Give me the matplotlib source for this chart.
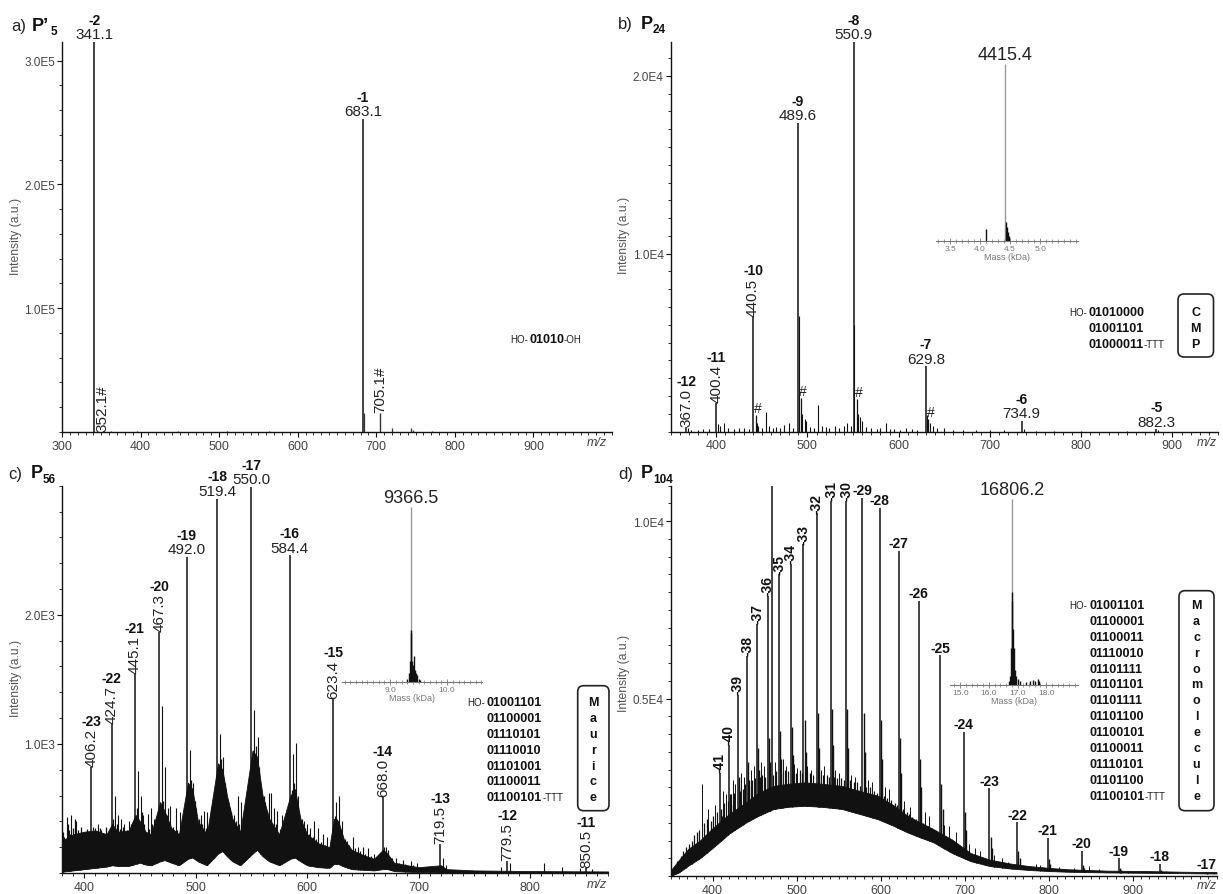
import numpy as np
import matplotlib
matplotlib.use("Agg")
import matplotlib.pyplot as plt
from matplotlib.patches import FancyBboxPatch
from matplotlib.ticker import FixedLocator, FixedFormatter, MultipleLocator

plt.rcParams['font.family'] = ['Liberation Sans', 'DejaVu Sans']

# ======================= DATA =======================
# ---- panel a : P'5 ----
a_peak_mz = [341.1, 683.1]
a_peak_int = [315000, 253000]
a_peak_z = ['-2', '-1']
a_hash_mz = [352.1, 705.1]
a_hash_int = [0, 15500]
a_hash_txt = ['352.1#', '705.1#']
a_minor_mz = [684.1, 720.6, 744.2, 746.8, 362.0, 395.0, 447.5, 510.0, 563.0, 640.0, 771.0, 861.0]
a_minor_int = [15000, 3000, 3500, 2000, 600, 500, 800, 500, 500, 400, 700, 400]

# ---- panel b : P24 ----
b_peak_mz = [367.0, 400.4, 440.5, 489.6, 550.9, 629.8, 734.9, 882.3]
b_peak_int = [250, 1600, 6480, 17340, 21900, 3670, 580, 120]
b_peak_z = ['-12', '-11', '-10', '-9', '-8', '-7', '-6', '-5']
b_peak_rot = [True, True, True, False, False, False, False, False]
b_hash_mz = [443.8, 492.6, 554.6, 632.6]
b_hash_int = [900, 1900, 1800, 700]
b_minor_mz = [369, 372, 380, 386, 392, 402, 404, 409, 413, 420, 425, 430, 436, 444.5, 446,
              450, 455, 458, 462, 466, 470, 474, 480, 484, 490.3, 494, 497, 499, 503, 507,
              512, 516, 520, 524, 530, 535, 540, 543, 548, 551.6, 556, 558, 560, 564, 570,
              576, 580, 586, 590, 595, 601, 608, 615, 620, 631.3, 634, 638, 642, 650, 660,
              670, 685, 700, 715, 737, 750, 770, 800, 850, 884]
b_minor_int = [200, 100, 100, 150, 120, 400, 300, 500, 200, 150, 200, 200, 150, 500, 300,
               200, 1100, 300, 200, 250, 200, 350, 450, 200, 6500, 1000, 700, 600, 250, 200,
               1500, 300, 250, 200, 300, 200, 300, 450, 300, 6000, 1000, 800, 600, 250, 200,
               150, 200, 450, 150, 150, 100, 200, 150, 100, 900, 500, 300, 200, 200, 100,
               80, 80, 60, 60, 150, 50, 40, 40, 30, 80]
b_ins_main_mass = [4.4154]
b_ins_main_int = [1.0]
b_ins_mass = [4.100, 4.428, 4.442, 4.462, 4.482]
b_ins_int = [0.07, 0.11, 0.08, 0.05, 0.03]
b_seq = ['01010000', '01001101', '01000011']
b_word = 'CMP'

# ---- panel c : P56 ----
c_peak_mz = [406.2, 424.7, 445.1, 467.3, 492.0, 519.4, 550.0, 584.4, 623.4, 668.0, 719.5, 779.5, 850.5]
c_peak_int = [820, 1155, 1540, 1866, 2447, 2900, 2990, 2460, 1350, 590, 225, 95, 40]
c_peak_z = ['-23', '-22', '-21', '-20', '-19', '-18', '-17', '-16', '-15', '-14', '-13', '-12', '-11']
c_peak_rot = [True, True, True, True, False, False, False, False, True, True, True, True, True]
c_band_mz = [380, 390, 400, 410, 420, 425, 430, 440, 446, 450, 455, 460, 468, 472, 478, 485,
             493, 497, 502, 510, 520, 524, 528, 533, 540, 551, 555, 560, 566, 575, 585, 589,
             594, 600, 610, 620, 624, 628, 633, 640, 650, 660, 668, 672, 678, 690, 700, 720,
             725, 750, 800, 870]
c_band_lo = [10, 20, 30, 40, 50, 60, 55, 55, 70, 80, 65, 60, 90, 100, 80, 60,
             110, 120, 90, 60, 150, 170, 130, 90, 60, 150, 180, 130, 90, 60, 110, 120,
             90, 60, 45, 40, 70, 70, 50, 30, 25, 20, 30, 30, 15, 10, 8, 4,
             4, 3, 2, 2]
c_band_hi = [250, 300, 320, 330, 300, 380, 320, 330, 450, 400, 320, 300, 550, 480, 350, 300,
             700, 650, 400, 300, 850, 800, 600, 420, 320, 950, 900, 600, 420, 300, 600, 650,
             420, 300, 230, 200, 420, 400, 260, 180, 140, 110, 180, 150, 80, 60, 45, 60,
             30, 20, 15, 12]
c_minor_mz = [409.5, 427.3, 430.0, 448.0, 450.5, 453.0, 469.6, 472.3, 475.0, 494.6, 497.5, 500.0,
              505.0, 521.9, 524.5, 527.0, 531.0, 534.0, 552.7, 555.5, 558.0, 565.5, 570.0, 587.0,
              589.8, 592.0, 597.0, 603.0, 626.0, 628.8, 631.0, 636.0, 641.0, 646.0, 670.6, 673.0,
              676.0, 693.0, 699.0, 722.0, 725.0, 774.0, 782.0, 813.0, 829.0, 845.0, 856.0,
              382.0, 384.5, 386.5, 388.5, 391.0, 393.0, 396.0, 398.5, 401.0, 404.0, 412.0, 415.0,
              418.0, 421.0, 433.0, 436.0, 440.0, 457.0, 460.0, 463.0, 477.0, 482.0, 486.0, 507.5,
              510.0, 514.0, 538.0, 541.0, 545.0, 562.0, 567.5, 573.0, 577.0, 580.0, 600.0, 606.0,
              610.0, 614.0, 618.0, 650.0, 655.0, 660.0, 680.0, 686.0]
c_minor_int = [350, 600, 450, 790, 600, 450, 1290, 820, 500, 950, 700, 500,
               450, 1080, 900, 650, 500, 450, 1260, 1050, 700, 620, 500, 920,
               1010, 600, 400, 350, 550, 600, 400, 250, 280, 200, 200, 180,
               120, 90, 80, 120, 60, 50, 80, 80, 50, 40, 30,
               280, 430, 330, 450, 300, 400, 280, 320, 250, 300, 380, 330,
               300, 280, 420, 380, 400, 460, 500, 420, 520, 500, 470, 480,
               470, 500, 600, 550, 520, 550, 620, 480, 450, 420, 380, 400,
               350, 300, 280, 200, 190, 150, 120, 100]
c_fine_mz = [381, 383, 385.5, 387.5, 390, 392, 394.5, 397, 399.5, 402, 405, 408, 411, 414, 417,
             419.5, 423, 426, 429, 432, 435, 438, 442, 444, 447, 452, 454, 458, 461, 465, 471,
             474, 477, 480, 483, 488, 491, 496, 499, 503, 506, 509, 512, 516, 522.5, 526, 529,
             532, 536, 539, 543, 548, 553.8, 557, 561, 564, 568, 572, 576, 583, 586, 588, 591,
             595, 598, 602, 605, 608, 612, 616, 621, 625, 627, 630, 634, 638, 643, 647, 652,
             657, 662, 666, 669, 671, 675, 682, 688, 695, 703, 710, 716]
c_fine_int = [320, 260, 380, 300, 350, 420, 330, 360, 300, 340, 290, 360, 300, 350, 310,
              360, 330, 420, 380, 340, 360, 330, 380, 400, 500, 470, 380, 340, 380, 360, 560,
              450, 380, 360, 330, 340, 380, 720, 560, 420, 380, 350, 360, 380, 880, 700, 560,
              470, 400, 380, 360, 400, 980, 820, 600, 480, 420, 380, 340, 360, 640, 700, 560,
              420, 350, 300, 280, 260, 240, 220, 260, 440, 420, 330, 260, 220, 190, 170, 150,
              130, 120, 150, 200, 170, 120, 80, 70, 60, 50, 45, 40]
c_ins_main_mass = [9.3665]
c_ins_main_int = [1.0]
c_ins_mass = [9.30, 9.33, 9.35, 9.362, 9.37, 9.38, 9.395, 9.41, 9.42, 9.44, 9.46, 9.48, 9.50, 9.53]
c_ins_int = [0.02, 0.05, 0.12, 0.30, 0.28, 0.12, 0.09, 0.10, 0.15, 0.07, 0.05, 0.04, 0.02, 0.01]
c_seq = ['01001101', '01100001', '01110101', '01110010', '01101001', '01100011', '01100101']
c_word = 'Maurice'

# ---- panel d : P104 ----
d_peak_mz = [408.9, 419.2, 429.9, 441.3, 453.2, 465.8, 479.2, 493.3, 508.3, 524.2, 541.1, 559.2,
             578.5, 599.2, 621.5, 645.4, 671.2, 699.3, 729.7, 762.9, 799.3, 839.3, 883.5, 932.7, 987.6]
d_peak_int = [2900, 3700, 5100, 6200, 7100, 7900, 8500, 8800, 9350, 10220, 10570, 10570,
              10660, 10380, 9160, 7750, 6220, 4060, 2470, 1510, 1070, 700, 500, 340, 120]
d_peak_z = ['-41', '-40', '-39', '-38', '-37', '-36', '-35', '-34', '-33', '-32', '-31', '-30',
            '-29', '-28', '-27', '-26', '-25', '-24', '-23', '-22', '-21', '-20', '-19', '-18', '-17']
d_peak_rot = [True] * 12 + [False] * 13
d_extra_mz = [470.3]
d_extra_int = [11000]
d_band_mz = [350, 360, 371, 385, 398, 408, 420, 440, 455, 473, 490, 510, 530, 554, 575, 597,
             615, 632, 648, 663, 685, 707, 730, 755, 777, 800, 823, 870, 916, 960, 1000]
d_band_lo = [0, 100, 290, 500, 750, 950, 1200, 1510, 1700, 1890, 1950, 1980, 1950, 1890, 1750, 1600,
             1420, 1230, 1080, 950, 650, 420, 280, 210, 170, 140, 120, 100, 90, 80, 70]
d_band_hi = [150, 450, 760, 1000, 1300, 1510, 1750, 2080, 2350, 2540, 2600, 2640, 2600, 2540, 2400, 2260,
             2000, 1700, 1500, 1320, 1030, 650, 460, 350, 280, 230, 190, 150, 140, 120, 110]
d_tail_mz = [410.2, 411.6, 420.5, 421.9, 431.2, 432.6, 442.6, 444.0, 454.5, 455.9, 467.1, 468.5,
             480.5, 481.9, 494.6, 496.0, 509.6, 511.0, 525.5, 526.9, 542.4, 543.8, 560.5, 561.9,
             579.8, 581.2, 600.5, 601.9, 622.8, 624.2, 646.7, 648.1, 672.5, 673.9, 700.6, 702.0,
             731.0, 732.4, 764.2, 765.6, 800.6, 802.0, 840.6, 842.0, 884.8, 886.2, 934.0, 935.4, 988.9]
d_tail_int = [1900, 1700, 2300, 2000, 2800, 2400, 3200, 2700, 3600, 3000, 3900, 3200,
              4100, 3300, 4200, 3400, 4400, 3500, 4600, 3600, 4700, 3700, 4700, 3600,
              4600, 3500, 4400, 3300, 3900, 2900, 3300, 2500, 2600, 1900, 1800, 1300,
              1100, 800, 700, 500, 480, 350, 320, 230, 230, 160, 160, 120, 70]
d_noise_mz = [387, 395, 403, 412, 416, 424, 427, 434, 437, 446, 449, 458, 461, 474, 484, 487,
              497, 501, 513, 517, 529, 533, 546, 551, 565, 570, 585, 590, 605, 610, 628, 635,
              653, 658, 676, 681, 690, 705, 712, 718, 735, 745, 752, 785, 790, 812, 830, 848,
              860, 895, 940, 975]
d_noise_int = [2590, 1900, 2000, 2400, 2300, 2700, 2600, 2900, 2800, 3000, 3100, 3200, 3100, 3200, 3300, 3100,
               3150, 3050, 3100, 3000, 3000, 3100, 3000, 2900, 2850, 2800, 2700, 2650, 2500, 2450, 2100, 1950,
               1800, 1700, 1450, 1400, 1250, 900, 800, 700, 600, 500, 400, 350, 300, 250, 230, 280,
               200, 150, 130, 120]
d_fine_mz = [352, 355, 358, 362, 365, 368, 372, 375, 378, 381, 384, 390, 393, 398, 401, 405, 414,
             418, 422, 426, 432, 436, 439, 443, 447, 451, 456, 459, 463, 468, 472, 476, 482, 486,
             490, 496, 499, 504, 507, 512, 516, 520, 527, 531, 536, 539, 545, 548, 553, 556, 564,
             568, 572, 576, 583, 587, 592, 596, 604, 608, 612, 617, 620, 627, 631, 634, 638, 642,
             650, 653, 657, 661, 665, 668, 675, 679, 683, 687, 692, 696, 704, 708, 714, 718, 722,
             726, 735, 740, 745, 750, 756]
d_fine_int = [200, 300, 420, 560, 700, 820, 900, 1000, 1150, 1250, 1300, 1500, 1600, 1550, 1700, 1800, 2050,
              2100, 2300, 2350, 2500, 2450, 2600, 2550, 2700, 2750, 2800, 2850, 2800, 2900, 2850, 2950, 2900, 3000,
              2950, 2950, 2900, 3000, 2900, 2950, 2900, 2850, 2900, 2850, 2850, 2800, 2800, 2750, 2750, 2700, 2700,
              2650, 2650, 2550, 2500, 2500, 2400, 2350, 2250, 2200, 2150, 2050, 2000, 1900, 1800, 1750, 1650, 1600,
              1500, 1450, 1400, 1350, 1300, 1200, 1100, 1050, 1000, 950, 850, 800, 650, 600, 550, 500, 470,
              430, 380, 350, 330, 300, 280]
d_ins_main_mass = [16.806]
d_ins_main_int = [1.0]
d_ins_mass = [16.70, 16.75, 16.78, 16.80, 16.815, 16.83, 16.86, 16.90, 16.95, 17.0, 17.1, 17.3,
              17.45, 17.55, 17.62, 17.70, 17.76]
d_ins_int = [0.02, 0.05, 0.20, 0.50, 0.45, 0.30, 0.20, 0.08, 0.05, 0.03, 0.02, 0.015,
             0.02, 0.025, 0.02, 0.03, 0.02]
d_seq = ['01001101', '01100001', '01100011', '01110010', '01101111', '01101101', '01101111',
         '01101100', '01100101', '01100011', '01110101', '01101100', '01100101']
d_word = 'Macromolecule'

# ======================= LAYOUT =======================
W, H = 1223, 895
fig = plt.figure(figsize=(W / 100, H / 100), dpi=100)


def rect(l, t, r, b):
    return [l / W, 1 - b / H, (r - l) / W, (b - t) / H]


INK = '#111111'
TXT = '#222222'
TICKC = '#444444'


def style(ax, xlim, ylim, xmaj, ymaj, ylab, yminor):
    ax.set_xlim(*xlim)
    ax.set_ylim(*ylim)
    for s in ['top', 'right']:
        ax.spines[s].set_visible(False)
    for s in ['left', 'bottom']:
        ax.spines[s].set_linewidth(1.0)
        ax.spines[s].set_color(INK)
    ax.xaxis.set_major_locator(FixedLocator(xmaj))
    ax.xaxis.set_major_formatter(FixedFormatter([str(v) for v in xmaj]))
    ax.xaxis.set_minor_locator(MultipleLocator(10))
    ax.yaxis.set_major_locator(FixedLocator(ymaj))
    ax.yaxis.set_major_formatter(FixedFormatter(ylab))
    ax.yaxis.set_minor_locator(MultipleLocator(yminor))
    ax.tick_params(which='major', direction='out', length=3.5, width=0.8, color=INK,
                   labelcolor=TICKC, labelsize=9, pad=2)
    ax.tick_params(axis='y', which='major', labelsize=8.5, pad=1.5)
    ax.tick_params(which='minor', direction='out', length=2, width=0.6, color=INK)
    ax.patch.set_alpha(0)


def label_peaks(ax, mz, inten, zs, rots, fs=11, zfs=10):
    for x, y, z, r in zip(mz, inten, zs, rots):
        t = ax.annotate(f'{x:.1f}', (x, y), xytext=(0, 0.5), textcoords='offset points',
                        rotation=90 if r else 0, ha='center', va='bottom', fontsize=fs,
                        color=TXT, annotation_clip=False)
        ax.annotate(z, xy=(0.5, 1), xycoords=t, xytext=(0, 0.3), textcoords='offset points',
                    ha='center', va='bottom', fontsize=zfs, fontweight='bold', color=INK,
                    annotation_clip=False)


def make_inset(l, r, base, top, xlim, ticks, minor, main_m, main_i, m, i, lab):
    ax = fig.add_axes(rect(l, top, r, base))
    ax.set_xlim(*xlim)
    ax.set_ylim(0, 1)
    for s in ['top', 'right', 'left']:
        ax.spines[s].set_visible(False)
    ax.spines['bottom'].set_color('#777777')
    ax.spines['bottom'].set_linewidth(0.8)
    ax.set_yticks([])
    ax.xaxis.set_major_locator(FixedLocator(ticks))
    ax.xaxis.set_major_formatter(FixedFormatter([f'{v:.1f}' for v in ticks]))
    ax.xaxis.set_minor_locator(MultipleLocator(minor))
    ax.tick_params(which='major', direction='inout', length=4, width=0.6, color='#777777',
                   labelcolor='#777777', labelsize=6, pad=1)
    ax.tick_params(which='minor', direction='inout', length=2.5, width=0.5, color='#777777')
    ax.set_xlabel('Mass (kDa)', fontsize=6.5, color='#777777', labelpad=0)
    ax.patch.set_alpha(0)
    ax.vlines(main_m, 0, main_i, colors='#9a9a9a', linewidth=1.0)
    ax.vlines(m, 0, i, colors=INK, linewidth=1.0)
    for mm, ii in zip(main_m, main_i):
        ax.annotate(lab, (mm, ii), xytext=(0, 1), textcoords='offset points', ha='center',
                    va='bottom', fontsize=13, color=TXT, annotation_clip=False)
    return ax


# ---------------- panel a ----------------
axa = fig.add_axes(rect(62, 43, 612, 433))
style(axa, (300, 1000), (0, 315000), [300, 400, 500, 600, 700, 800, 900],
      [100000, 200000, 300000], ['1.0E5', '2.0E5', '3.0E5'], 20000)
axa.vlines(a_minor_mz, 0, a_minor_int, colors='#333333', linewidth=0.9)
axa.vlines(a_peak_mz, 0, a_peak_int, colors='#333333', linewidth=1.3)
axa.vlines(a_hash_mz, 0, a_hash_int, colors='#333333', linewidth=1.0)
label_peaks(axa, a_peak_mz, a_peak_int, a_peak_z, [False, False])
for x, y, s in zip(a_hash_mz, a_hash_int, a_hash_txt):
    axa.annotate(s, (x, y), xytext=(0, 0.5), textcoords='offset points', rotation=90,
                 ha='center', va='bottom', fontsize=11, color=TXT, annotation_clip=False)

# ---------------- panel b ----------------
axb = fig.add_axes(rect(670.5, 43, 1218, 432.5))
style(axb, (350, 950), (0, 21900), [400, 500, 600, 700, 800, 900],
      [10000, 20000], ['1.0E4', '2.0E4'], 1000)
axb.vlines(b_minor_mz, 0, b_minor_int, colors=INK, linewidth=0.8)
axb.vlines(b_hash_mz, 0, b_hash_int, colors=INK, linewidth=0.9)
axb.vlines(b_peak_mz, 0, b_peak_int, colors=INK, linewidth=1.1)
label_peaks(axb, b_peak_mz, b_peak_int, b_peak_z, b_peak_rot)
for x, y in zip(b_hash_mz, b_hash_int):
    axb.annotate('#', (x, y), xytext=(1.5, 0), textcoords='offset points', ha='center',
                 va='bottom', fontsize=10, color=TXT, annotation_clip=False)

# ---------------- panel c ----------------
axc = fig.add_axes(rect(62, 486.7, 608, 874))
style(axc, (380, 870), (0, 3000), [400, 500, 600, 700, 800],
      [1000, 2000], ['1.0E3', '2.0E3'], 200)
axc.fill_between(c_band_mz, c_band_lo, c_band_hi, color=INK, linewidth=0.6)
fb = np.interp(c_fine_mz, c_band_mz, c_band_lo)
axc.vlines(c_fine_mz, fb, c_fine_int, colors=INK, linewidth=0.9)
cb = np.interp(c_minor_mz, c_band_mz, c_band_lo)
axc.vlines(c_minor_mz, cb, c_minor_int, colors=INK, linewidth=0.8)
cpb = np.interp(c_peak_mz, c_band_mz, c_band_lo)
axc.vlines(c_peak_mz, cpb, c_peak_int, colors=INK, linewidth=1.1)
label_peaks(axc, c_peak_mz, c_peak_int, c_peak_z, c_peak_rot)

# ---------------- panel d ----------------
axd = fig.add_axes(rect(670.5, 486.7, 1216.5, 877))
style(axd, (350, 1000), (0, 11000), [400, 500, 600, 700, 800, 900],
      [5000, 10000], ['0.5E4', '1.0E4'], 500)
axd.fill_between(d_band_mz, d_band_lo, d_band_hi, color=INK, linewidth=0.6)
db = np.interp(d_fine_mz, d_band_mz, d_band_lo)
axd.vlines(d_fine_mz, db, d_fine_int, colors=INK, linewidth=0.9)
nb = np.interp(d_noise_mz, d_band_mz, d_band_lo)
axd.vlines(d_noise_mz, nb, d_noise_int, colors=INK, linewidth=0.7)
tb = np.interp(d_tail_mz, d_band_mz, d_band_lo)
axd.vlines(d_tail_mz, tb, d_tail_int, colors=INK, linewidth=1.0)
eb = np.interp(d_extra_mz, d_band_mz, d_band_lo)
axd.vlines(d_extra_mz, eb, d_extra_int, colors=INK, linewidth=1.1)
pb = np.interp(d_peak_mz, d_band_mz, d_band_lo)
axd.vlines(d_peak_mz, pb, d_peak_int, colors=INK, linewidth=1.1)
for x, y, z, r in zip(d_peak_mz, d_peak_int, d_peak_z, d_peak_rot):
    axd.annotate(z, (x, y), xytext=(0, 0.5), textcoords='offset points',
                 rotation=90 if r else 0, ha='center', va='bottom', fontsize=10,
                 fontweight='bold', color=INK, annotation_clip=False)

# ---------------- insets ----------------
make_inset(936, 1078, 242, 65, (3.265, 5.632), [3.5, 4.0, 4.5, 5.0], 0.1,
           b_ins_main_mass, b_ins_main_int, b_ins_mass, b_ins_int, '4415.4')
make_inset(342, 482, 683, 508, (8.156, 10.612), [9.0, 10.0], 0.1,
           c_ins_main_mass, c_ins_main_int, c_ins_mass, c_ins_int, '9366.5')
make_inset(950, 1078, 686, 500, (14.644, 19.108), [15.0, 16.0, 17.0, 18.0], 0.2,
           d_ins_main_mass, d_ins_main_int, d_ins_mass, d_ins_int, '16806.2')

# ---------------- overlay (pixel coordinates) ----------------
ov = fig.add_axes([0, 0, 1, 1], zorder=20)
ov.set_xlim(0, W)
ov.set_ylim(H, 0)
ov.axis('off')

# titles
for (x, y, lab) in [(11, 26, 'a)'), (618, 24, 'b)'), (8, 474, 'c)'), (618, 474, 'd)')]:
    ov.text(x, y, lab, fontsize=12, color=TXT, ha='left', va='center')
ov.text(32, 26, 'P\u2019', fontsize=13, fontweight='bold', color=INK, ha='left', va='center')
ov.text(51, 32, '5', fontsize=8.5, fontweight='bold', color=INK, ha='left', va='center')
ov.text(641, 24, 'P', fontsize=13, fontweight='bold', color=INK, ha='left', va='center')
ov.text(653, 30, '24', fontsize=8.5, fontweight='bold', color=INK, ha='left', va='center')
ov.text(31, 474, 'P', fontsize=13, fontweight='bold', color=INK, ha='left', va='center')
ov.text(43, 480, '56', fontsize=8.5, fontweight='bold', color=INK, ha='left', va='center')
ov.text(641, 474, 'P', fontsize=13, fontweight='bold', color=INK, ha='left', va='center')
ov.text(653, 480, '104', fontsize=8.5, fontweight='bold', color=INK, ha='left', va='center')

# y labels
for (x, y) in [(16, 236), (624, 235), (16, 678), (624, 673)]:
    ov.text(x, y, 'Intensity (a.u.)', rotation=90, fontsize=8.7, color='#555555',
            ha='center', va='center')
# m/z labels
for (x, y) in [(597, 443), (1207, 443), (597, 885), (1207, 886)]:
    ov.text(x, y, 'm/z', fontstyle='italic', fontsize=9, color=TICKC, ha='center', va='center')

# sequence in panel a
ov.text(510, 340, 'HO-', fontsize=7, color=TXT, ha='left', va='center')
ov.text(529, 340, '01010', fontsize=9, fontweight='bold', color=INK, ha='left', va='center')
ov.text(564, 340, '-OH', fontsize=7, color=TXT, ha='left', va='center')


def seq_block(x0, y0, dy, seq, word, box):
    for k, s in enumerate(seq):
        y = y0 + k * dy
        ov.text(x0, y, s, fontsize=9, fontweight='bold', color=INK, ha='left', va='center')
        if k == 0:
            ov.text(x0 - 1.5, y, 'HO-', fontsize=7, color=TXT, ha='right', va='center')
        if k == len(seq) - 1:
            ov.text(x0 + 55.5, y, '-TTT', fontsize=7, color=TXT, ha='left', va='center')
    bx0, by0, bx1, by1 = box
    ov.add_patch(FancyBboxPatch((bx0, by0), bx1 - bx0, by1 - by0,
                                boxstyle='round,pad=0,rounding_size=6',
                                fc='none', ec='#222222', lw=1.2))
    for k, ch in enumerate(word):
        ov.text((bx0 + bx1) / 2, y0 + k * dy, ch, fontsize=9, fontweight='bold',
                color=INK, ha='center', va='center')


seq_block(1088.5, 313, 16, b_seq, b_word, (1178, 295, 1213.5, 358))
seq_block(486.7, 703.3, 15.83, c_seq, c_word, (577.7, 686.7, 609, 811.7))
seq_block(1089, 606, 15.9, d_seq, d_word, (1179, 591.7, 1214, 811.7))

fig.savefig('out.png', dpi=100)
